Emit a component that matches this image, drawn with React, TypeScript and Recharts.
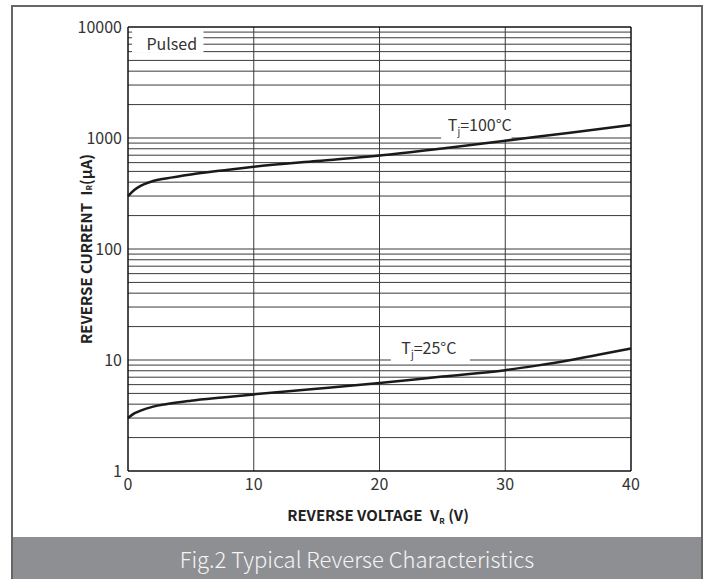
import React from 'react'
import { LineChart, Line, XAxis, YAxis, ReferenceLine, ReferenceArea } from 'recharts'

// reverse voltage (V) and reverse current (µA)
const voltage = [0, 0.5, 1, 2, 3, 5, 7.5, 10, 15, 20, 25, 30, 32.5, 35, 37.5, 40]
const current25 = [3.0, 3.3, 3.5, 3.8, 4.0, 4.3, 4.6, 4.9, 5.5, 6.2, 7.1, 8.1, 8.9, 9.9, 11.2, 12.7]
const current100 = [300, 340, 370, 410, 432, 470, 510, 550, 620, 695, 805, 945, 1025, 1110, 1205, 1310]

const xTicks = [0, 10, 20, 30, 40]
const yTicks = [1, 10, 100, 1000, 10000]
const decades = [1, 10, 100, 1000]
const steps = [2, 3, 4, 5, 6, 7, 8, 9, 10]
const xGrid = [10, 20, 30]

const data = voltage.map((v, i) => ({ v, t25: current25[i], t100: current100[i] }))
const hLines = decades.flatMap(d => steps.map(s => d * s)).filter(h => h < 10000)

const FONT = '"Noto Sans CJK SC", "Noto Sans", sans-serif'
const INK = '#333'
const GRID = '#3a3a3a'

// label boxes that blank the grid behind the curve names
const notes = [
  { key: 'pulsed', x1: 0.32, x2: 6.0, y1: 5850, y2: 9800, main: 'Pulsed', sub: '', rest: '', dx: 4, dy: 10 },
  { key: 't100', x1: 24.9, x2: 30.5, y1: 970, y2: 1790, main: 'T', sub: 'j', rest: '=100°C', dx: 3.5, dy: 6 },
  { key: 't25', x1: 20.9, x2: 27.2, y1: 9.7, y2: 16.8, main: 'T', sub: 'j', rest: '=25°C', dx: -1.5, dy: 6 },
]

function NoteText({ viewBox, note }: any) {
  const { x, y, width, height } = viewBox
  return (
    <text x={x + width / 2 + note.dx} y={y + height / 2 + note.dy} textAnchor="middle"
      fontFamily={FONT} fontSize={16} fill={INK}>
      {note.main}
      {note.sub && <tspan fontSize={10} dy={4}>{note.sub}</tspan>}
      {note.rest && <tspan dy={note.sub ? -4 : 0}>{note.rest}</tspan>}
    </text>
  )
}

function YTitle({ viewBox }: any) {
  const cx = viewBox.x + 17
  const cy = viewBox.y + viewBox.height / 2
  return (
    <text x={cx} y={cy} transform={`rotate(-90 ${cx} ${cy})`} textAnchor="middle" dominantBaseline="central"
      fontFamily={FONT} fontSize={15} fontWeight={700} fill="#222">
      REVERSE CURRENT{'\u2002'}I<tspan fontSize={8} dy={3}>R</tspan><tspan dy={-3}>(μA)</tspan>
    </text>
  )
}

function XTitle({ viewBox }: any) {
  return (
    <text x={viewBox.x + viewBox.width / 2 - 1.5} y={viewBox.y + 50} textAnchor="middle"
      fontFamily={FONT} fontSize={15} fontWeight={700} fill="#222">
      REVERSE VOLTAGE{'\u2002'}V<tspan fontSize={8} dy={3}>R</tspan><tspan dy={-3}> (V)</tspan>
    </text>
  )
}

export default function App() {
  return (
    <div style={{ position: 'fixed', left: 0, top: 0, width: 712, height: 579, background: '#fff', overflow: 'hidden' }}>
      <div style={{ position: 'absolute', left: 11, top: 5, width: 692, height: 600, border: '2px solid #666', boxSizing: 'border-box' }} />
      <div style={{
        position: 'absolute', left: 13, top: 537, width: 688, height: 42, background: '#8e8f93',
        color: '#f5f5f5', fontFamily: FONT, fontSize: 22, fontWeight: 300, lineHeight: '42px', textAlign: 'center',
      }}>
        Fig.2 Typical Reverse Characteristics
      </div>
      <div style={{ position: 'absolute', left: 0, top: 0 }}>
        <LineChart width={712} height={537} data={data} margin={{ top: 27, right: 81, bottom: 36, left: 68 }}>
          <XAxis dataKey="v" type="number" domain={[0, 40]} ticks={xTicks} tickLine={false}
            axisLine={{ stroke: '#111', strokeWidth: 1.5 }} height={30}
            tick={{ fontFamily: FONT, fontSize: 16, fill: INK }} label={{ content: XTitle }} />
          <YAxis type="number" scale="log" domain={[1, 10000]} ticks={yTicks} allowDataOverflow
            tickLine={false} tickSize={4} tickMargin={2} width={60}
            axisLine={{ stroke: '#111', strokeWidth: 1.5 }}
            tick={{ fontFamily: FONT, fontSize: 16, fill: INK }} label={{ content: YTitle }} />
          {hLines.map(h => (
            <ReferenceLine key={'h' + h} y={h} stroke={GRID} strokeWidth={1} zIndex={50} />
          ))}
          {xGrid.map(v => (
            <ReferenceLine key={'v' + v} x={v} stroke={GRID} strokeWidth={1} zIndex={50} />
          ))}
          <ReferenceLine y={10000} stroke="#111" strokeWidth={1.5} />
          <ReferenceLine x={40} stroke="#111" strokeWidth={1.5} />
          {notes.map(n => (
            <ReferenceArea key={n.key} x1={n.x1} x2={n.x2} y1={n.y1} y2={n.y2} fill="#fff" fillOpacity={1}
              stroke="none" zIndex={150} label={{ content: (p: any) => <NoteText {...p} note={n} /> }} />
          ))}
          <Line dataKey="t100" type="monotone" stroke="#1a1a1a" strokeWidth={2.5} dot={false} isAnimationActive={false} />
          <Line dataKey="t25" type="monotone" stroke="#1a1a1a" strokeWidth={2.5} dot={false} isAnimationActive={false} />
        </LineChart>
      </div>
    </div>
  )
}
